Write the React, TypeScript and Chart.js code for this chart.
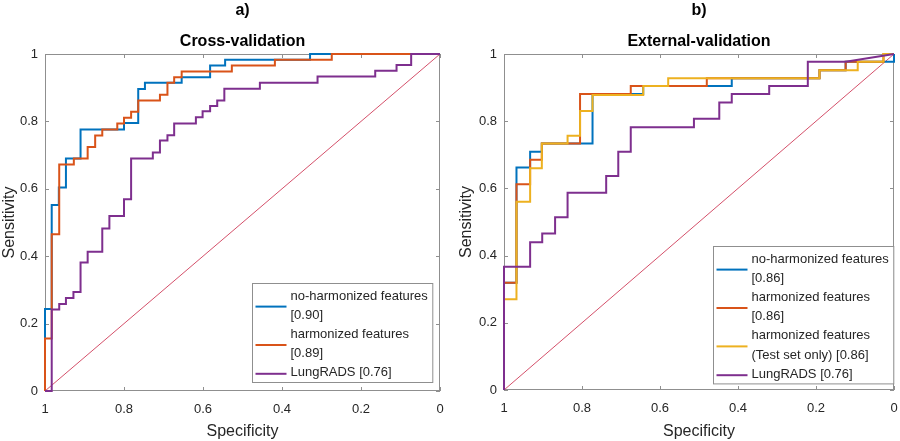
import React, { useEffect, useRef } from "react";
import { Chart, registerables } from "chart.js";

Chart.register(...registerables);

const FONT = "'Liberation Sans', Arial, Helvetica, sans-serif";
Chart.defaults.font.family = FONT;

// ---------- tick labels ----------
const tickValues = [0, 0.2, 0.4, 0.6, 0.8, 1];

// ---------- a) Cross-validation ----------
const cvNoHarmSpec = [1, 1, 0.983, 0.983, 0.965, 0.965, 0.947, 0.947, 0.91, 0.91, 0.8, 0.8, 0.764, 0.764, 0.747, 0.747, 0.654, 0.654, 0.582, 0.582, 0.544, 0.544, 0.329, 0.329, 0];
const cvNoHarmSens = [0, 0.243, 0.243, 0.552, 0.552, 0.604, 0.604, 0.69, 0.69, 0.776, 0.776, 0.795, 0.795, 0.896, 0.896, 0.915, 0.915, 0.931, 0.931, 0.966, 0.966, 0.983, 0.983, 1, 1];

const cvHarmSpec = [1, 1, 0.983, 0.983, 0.964, 0.964, 0.927, 0.927, 0.892, 0.892, 0.873, 0.873, 0.855, 0.855, 0.817, 0.817, 0.8, 0.8, 0.782, 0.782, 0.764, 0.764, 0.709, 0.709, 0.69, 0.69, 0.673, 0.673, 0.654, 0.654, 0.527, 0.527, 0.418, 0.418, 0.274, 0.274, 0];
const cvHarmSens = [0, 0.156, 0.156, 0.465, 0.465, 0.672, 0.672, 0.69, 0.69, 0.724, 0.724, 0.758, 0.758, 0.776, 0.776, 0.794, 0.794, 0.811, 0.811, 0.829, 0.829, 0.862, 0.862, 0.879, 0.879, 0.915, 0.915, 0.931, 0.931, 0.948, 0.948, 0.966, 0.966, 0.983, 0.983, 1, 1];

const cvLungSpec = [1, 0.983, 0.983, 0.964, 0.964, 0.947, 0.947, 0.928, 0.928, 0.91, 0.91, 0.892, 0.892, 0.855, 0.855, 0.837, 0.837, 0.8, 0.8, 0.782, 0.782, 0.727, 0.727, 0.709, 0.709, 0.69, 0.69, 0.673, 0.673, 0.618, 0.618, 0.601, 0.601, 0.582, 0.582, 0.564, 0.564, 0.546, 0.546, 0.456, 0.456, 0.31, 0.31, 0.164, 0.164, 0.11, 0.11, 0.073, 0.073, 0];
const cvLungSens = [0, 0, 0.242, 0.242, 0.258, 0.258, 0.276, 0.276, 0.294, 0.294, 0.381, 0.381, 0.413, 0.413, 0.482, 0.482, 0.519, 0.519, 0.569, 0.569, 0.69, 0.69, 0.708, 0.708, 0.743, 0.743, 0.759, 0.759, 0.794, 0.794, 0.812, 0.812, 0.83, 0.83, 0.846, 0.846, 0.862, 0.862, 0.897, 0.897, 0.915, 0.915, 0.933, 0.933, 0.95, 0.95, 0.967, 0.967, 1, 1];

// ---------- b) External-validation ----------
const evNoHarmSpec = [1, 1, 0.968, 0.968, 0.933, 0.933, 0.903, 0.903, 0.773, 0.773, 0.643, 0.643, 0.416, 0.416, 0.191, 0.191, 0.124, 0.124, 0, 0];
const evNoHarmSens = [0, 0.319, 0.319, 0.662, 0.662, 0.709, 0.709, 0.734, 0.734, 0.881, 0.881, 0.905, 0.905, 0.928, 0.928, 0.952, 0.952, 0.977, 0.977, 1];

const evHarmSpec = [1, 1, 0.968, 0.968, 0.933, 0.933, 0.903, 0.903, 0.805, 0.805, 0.675, 0.675, 0.48, 0.48, 0.191, 0.191, 0.124, 0.124, 0.027, 0.027, 0];
const evHarmSens = [0, 0.319, 0.319, 0.612, 0.612, 0.685, 0.685, 0.734, 0.734, 0.881, 0.881, 0.905, 0.905, 0.928, 0.928, 0.952, 0.952, 0.977, 0.977, 1, 1];

const evTestSpec = [1, 1, 0.968, 0.968, 0.933, 0.933, 0.903, 0.903, 0.837, 0.837, 0.805, 0.805, 0.773, 0.773, 0.643, 0.643, 0.579, 0.579, 0.191, 0.191, 0.093, 0.093, 0.027, 0.027, 0];
const evTestSens = [0, 0.27, 0.27, 0.56, 0.56, 0.66, 0.66, 0.734, 0.734, 0.757, 0.757, 0.83, 0.83, 0.878, 0.878, 0.905, 0.905, 0.928, 0.928, 0.952, 0.952, 0.977, 0.977, 1, 1];

const evLungSpec = [1, 1, 0.933, 0.933, 0.902, 0.902, 0.869, 0.869, 0.837, 0.837, 0.738, 0.738, 0.707, 0.707, 0.675, 0.675, 0.513, 0.513, 0.448, 0.448, 0.416, 0.416, 0.32, 0.32, 0.221, 0.221, 0.124, 0];
const evLungSens = [0, 0.367, 0.367, 0.44, 0.44, 0.466, 0.466, 0.514, 0.514, 0.587, 0.587, 0.637, 0.637, 0.709, 0.709, 0.782, 0.782, 0.807, 0.807, 0.856, 0.856, 0.881, 0.881, 0.905, 0.905, 0.977, 0.977, 1];

// chance line
const diagSpec = [1, 0];
const diagSens = [0, 1];

// labels
const cvLabels = [["no-harmonized features", "[0.90]"], ["harmonized features", "[0.89]"], ["LungRADS [0.76]"]];
const evLabels = [["no-harmonized features", "[0.86]"], ["harmonized features", "[0.86]"], ["harmonized features", "(Test set only) [0.86]"], ["LungRADS [0.76]"]];

const BLUE = "#0072BD";
const ORANGE = "#D95319";
const YELLOW = "#EDB120";
const PURPLE = "#7E2F8E";
const DIAG = "#d4506a";
const AXIS = "#8f8f8f";
const TEXT = "#262626";

type Series = { label: string[]; color: string; spec: number[]; sens: number[] };

const pts = (spec: number[], sens: number[]) => spec.map((s, i) => ({ x: s, y: sens[i] }));
const fmt = (v: number) => String(Math.round(v * 10) / 10);

const decorPlugin = {
  id: "decor",
  beforeDatasetsDraw(chart: any) {
    const { ctx, chartArea: a, scales } = chart;
    ctx.save();
    ctx.strokeStyle = AXIS;
    ctx.lineWidth = 1;
    ctx.strokeRect(a.left + 0.5, a.top + 0.5, a.right - a.left - 1, a.bottom - a.top - 1);
    ctx.beginPath();
    const tl = 4;
    for (const v of tickValues) {
      const x = Math.round(scales.x.getPixelForValue(v)) + 0.5;
      ctx.moveTo(x, a.bottom);
      ctx.lineTo(x, a.bottom - tl);
      ctx.moveTo(x, a.top);
      ctx.lineTo(x, a.top + tl);
      const y = Math.round(scales.y.getPixelForValue(v)) + 0.5;
      ctx.moveTo(a.left, y);
      ctx.lineTo(a.left + tl, y);
      ctx.moveTo(a.right, y);
      ctx.lineTo(a.right - tl, y);
    }
    ctx.stroke();
    ctx.restore();
  },
  afterDatasetsDraw(chart: any, _args: any, opts: any) {
    const { ctx, chartArea: a } = chart;
    ctx.save();
    const cx = (a.left + a.right) / 2;
    ctx.fillStyle = "#000";
    ctx.textAlign = "center";
    ctx.textBaseline = "middle";
    ctx.font = `bold 16px ${FONT}`;
    ctx.fillText(opts.panel, cx, 11);
    ctx.fillText(opts.title, cx, 42);

    // legend
    const series: Series[] = opts.series;
    ctx.font = `13px ${FONT}`;
    const lines = series.flatMap((s) => s.label);
    const tw = Math.max(...lines.map((l) => ctx.measureText(l).width));
    const lh = 19.2;
    const w = 3 + 31 + 4 + tw + 5;
    const h = lines.length * lh + 3;
    const right = a.right - opts.legendRight;
    const bottom = a.bottom - opts.legendBottom;
    const x0 = Math.round(right - w) + 0.5;
    const y0 = Math.round(bottom - h) + 0.5;
    ctx.fillStyle = "#fff";
    ctx.fillRect(x0, y0, w, h);
    ctx.strokeStyle = AXIS;
    ctx.lineWidth = 1;
    ctx.strokeRect(x0, y0, w, h);
    let ly = y0 + 12.5;
    ctx.textAlign = "left";
    for (const s of series) {
      const n = s.label.length;
      const sy = ly + ((n - 1) * lh) / 2 + 1;
      ctx.strokeStyle = s.color;
      ctx.lineWidth = 2;
      ctx.beginPath();
      ctx.moveTo(x0 + 3, sy);
      ctx.lineTo(x0 + 34, sy);
      ctx.stroke();
      ctx.fillStyle = TEXT;
      s.label.forEach((t, k) => ctx.fillText(t, x0 + 38, ly + k * lh));
      ly += n * lh;
    }
    ctx.restore();
  },
};

type PanelProps = {
  x: number;
  w: number;
  panel: string;
  title: string;
  series: Series[];
  yAxisW: number;
  xAxisH: number;
  padRight: number;
  yTitlePad: number;
  legendRight: number;
  legendBottom: number;
};

function RocPanel(p: PanelProps) {
  const ref = useRef<HTMLCanvasElement>(null);
  useEffect(() => {
    const n = p.series.length;
    const datasets: any[] = p.series.map((s, i) => ({
      label: s.label.join(" "),
      data: pts(s.spec, s.sens),
      borderColor: s.color,
      backgroundColor: s.color,
      borderWidth: 2,
      pointRadius: 0,
      fill: false,
      tension: 0,
      clip: 4,
      order: n - i,
    }));
    datasets.push({
      label: "chance",
      data: pts(diagSpec, diagSens),
      borderColor: DIAG,
      borderWidth: 1,
      pointRadius: 0,
      fill: false,
      tension: 0,
      order: 99,
    });
    const chart = new Chart(ref.current as HTMLCanvasElement, {
      type: "line",
      data: { datasets },
      options: {
        animation: false,
        responsive: false,
        maintainAspectRatio: false,
        devicePixelRatio: 1,
        layout: { padding: { left: 0, right: p.padRight, top: 54, bottom: 0 }, autoPadding: false } as any,
        plugins: {
          legend: { display: false },
          tooltip: { enabled: false },
          decor: {
            panel: p.panel,
            title: p.title,
            series: p.series,
            legendRight: p.legendRight,
            legendBottom: p.legendBottom,
          },
        } as any,
        scales: {
          x: {
            type: "linear",
            min: 0,
            max: 1,
            reverse: true,
            grid: { display: false, drawTicks: false },
            border: { display: false },
            afterBuildTicks: (s: any) => {
              s.ticks = tickValues.map((v) => ({ value: v }));
            },
            ticks: {
              padding: 11,
              color: TEXT,
              font: { size: 13 },
              maxRotation: 0,
              autoSkip: false,
              callback: (v: any) => fmt(Number(v)),
            },
            title: { display: true, text: "Specificity", color: TEXT, font: { size: 16 }, padding: { top: 0, bottom: 0 } },
            afterFit: (s: any) => {
              s.height = p.xAxisH;
            },
          } as any,
          y: {
            type: "linear",
            min: 0,
            max: 1,
            grid: { display: false, drawTicks: false },
            border: { display: false },
            afterBuildTicks: (s: any) => {
              s.ticks = tickValues.map((v) => ({ value: v }));
            },
            ticks: {
              padding: 7,
              color: TEXT,
              font: { size: 13 },
              autoSkip: false,
              callback: (v: any) => fmt(Number(v)),
            },
            title: { display: true, text: "Sensitivity", color: TEXT, font: { size: 16 }, padding: { top: p.yTitlePad, bottom: 0 } },
            afterFit: (s: any) => {
              s.width = p.yAxisW;
            },
          } as any,
        },
      },
      plugins: [decorPlugin as any],
    });
    return () => chart.destroy();
  }, []);
  return (
    <canvas
      ref={ref}
      width={p.w}
      height={441}
      style={{ position: "absolute", left: p.x, top: 0, width: p.w, height: 441, display: "block" }}
    />
  );
}

const cvSeries: Series[] = [
  { label: cvLabels[0], color: BLUE, spec: cvNoHarmSpec, sens: cvNoHarmSens },
  { label: cvLabels[1], color: ORANGE, spec: cvHarmSpec, sens: cvHarmSens },
  { label: cvLabels[2], color: PURPLE, spec: cvLungSpec, sens: cvLungSens },
];

const evSeries: Series[] = [
  { label: evLabels[0], color: BLUE, spec: evNoHarmSpec, sens: evNoHarmSens },
  { label: evLabels[1], color: ORANGE, spec: evHarmSpec, sens: evHarmSens },
  { label: evLabels[2], color: YELLOW, spec: evTestSpec, sens: evTestSens },
  { label: evLabels[3], color: PURPLE, spec: evLungSpec, sens: evLungSens },
];

export default function App() {
  return (
    <div style={{ position: "fixed", left: 0, top: 0, width: 900, height: 441, background: "#fff", overflow: "hidden" }}>
      <RocPanel
        x={0}
        w={450}
        panel="a)"
        title="Cross-validation"
        series={cvSeries}
        yAxisW={45}
        xAxisH={50}
        padRight={10}
        yTitlePad={0}
        legendRight={8}
        legendBottom={9}
      />
      <RocPanel
        x={450}
        w={450}
        panel="b)"
        title="External-validation"
        series={evSeries}
        yAxisW={54}
        xAxisH={51}
        padRight={6}
        yTitlePad={7}
        legendRight={1}
        legendBottom={7}
      />
    </div>
  );
}
